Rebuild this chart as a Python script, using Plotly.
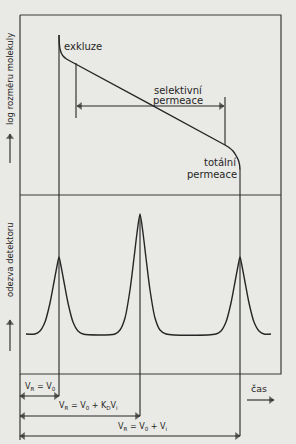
import plotly.graph_objects as go

# retention positions (time axis units) of the three peaks
retention = [59, 140, 240]
line_bottoms = [396, 416, 436]
line_tops = [35, 215, 170]

# upper calibration curve (log molecular size vs time)
cal_x = [59, 59.3, 60, 61.5, 63.5, 66.5, 70, 225, 229, 233, 236, 238.3, 239.6, 240]
cal_y = [35, 43, 49, 53.5, 56.5, 59, 61, 145, 147.5, 151, 155.5, 160, 165, 170]

# detector response (chromatogram)
chrom_x = [26, 35, 40, 45, 50, 54, 57, 59, 61, 64, 68, 73, 78, 83,
           115, 120, 125, 130, 134, 137, 140, 143, 146, 150, 155, 160, 166,
           216, 221, 226, 231, 235, 238, 240, 242, 245, 249, 254, 259, 264, 271]
chrom_y = [334, 334, 331, 322, 303, 282, 266, 257, 266, 282, 303, 322, 331, 334,
           334, 330, 318, 290, 258, 233, 214, 233, 258, 290, 318, 330, 334,
           334, 331, 322, 303, 282, 266, 257, 266, 282, 303, 322, 331, 334, 334]

INK = "#262626"
BG = "#e9e9e5"
FONT = "DejaVu Sans"

fig = go.Figure()

def seg(xs, ys, width=1.1, color=INK):
    fig.add_trace(go.Scatter(x=xs, y=ys, mode="lines", line=dict(color=color, width=width), hoverinfo="skip"))

# frames
seg([20, 281, 281, 20, 20], [15, 15, 374, 374, 15], 1.2, "#3a3a3a")
seg([20, 281], [195, 195], 1.2, "#3a3a3a")
seg([20, 20], [374, 440])

# calibration curve
fig.add_trace(go.Scatter(x=cal_x, y=cal_y, mode="lines",
                         line=dict(color=INK, width=1.4, shape="spline", smoothing=0.6), hoverinfo="skip"))

# chromatogram
fig.add_trace(go.Scatter(x=chrom_x, y=chrom_y, mode="lines",
                         line=dict(color=INK, width=1.4, shape="spline", smoothing=0.7), hoverinfo="skip"))

# vertical retention lines
for xr, top, bot in zip(retention, line_tops, line_bottoms):
    seg([xr, xr], [top, bot])

# selective permeation bracket ticks
seg([76, 76], [63, 118])
seg([225, 225], [97, 145])

def arrow(x0, y0, x1, y1, both=False):
    if y0 == y1:
        end_sym = "triangle-right" if x1 > x0 else "triangle-left"
        start_sym = "triangle-left" if x1 > x0 else "triangle-right"
        dx = 3 if x1 > x0 else -3
        xe, ye, xs, ys = x1 - dx, y1, x0 + dx, y0
    else:
        end_sym = "triangle-up" if y1 < y0 else "triangle-down"
        start_sym = "triangle-down" if y1 < y0 else "triangle-up"
        dy = -3 if y1 < y0 else 3
        xe, ye, xs, ys = x1, y1 - dy, x0, y0 + dy
    seg([x0, x1], [y0, y1])
    px, py, sy = [xe], [ye], [end_sym]
    if both:
        px.append(xs); py.append(ys); sy.append(start_sym)
    fig.add_trace(go.Scatter(x=px, y=py, mode="markers", hoverinfo="skip",
                             marker=dict(symbol=sy, size=[7] * len(px), color=INK,
                                         line=dict(width=0))))

arrow(77, 106, 224, 106, both=True)
arrow(20, 396, 59, 396, both=True)
arrow(20, 416, 140, 416, both=True)
arrow(20, 436, 240, 436, both=True)
arrow(247, 400, 274, 400)
arrow(10, 163, 10, 134)
arrow(10, 351, 10, 320)

def text(x, y, s, size=10, anchor="left", angle=0):
    fig.add_annotation(x=x, y=y, xref="x", yref="y", text=s, showarrow=False, xanchor=anchor,
                       yanchor="middle", textangle=angle,
                       font=dict(family=FONT, size=size, color=INK))

text(62, 46, "exkluze")
text(178, 90, "selektivní", anchor="center")
text(178, 100, "permeace", anchor="center")
text(239, 162, "totální", anchor="right")
text(239, 174, "permeace", anchor="right")
text(10, 79, "log rozměru molekuly", size=8.5, anchor="center", angle=-90)
text(10, 260, "odezva detektoru", size=8.5, anchor="center", angle=-90)
text(40, 387, "V<sub>R</sub> = V<sub>0</sub>", size=8, anchor="center")
text(88, 406, "V<sub>R</sub> = V<sub>0</sub> + K<sub>D</sub>V<sub>i</sub>", size=8, anchor="center")
text(142, 427, "V<sub>R</sub> = V<sub>0</sub> + V<sub>i</sub>", size=8, anchor="center")
text(259, 388, "čas", size=9.5, anchor="center")

fig.update_layout(width=296, height=444, margin=dict(l=0, r=0, t=0, b=0),
                  paper_bgcolor=BG, plot_bgcolor=BG, showlegend=False,
                  xaxis=dict(range=[0, 296], visible=False, fixedrange=True),
                  yaxis=dict(range=[444, 0], visible=False, fixedrange=True))

fig.write_html("out.html")
